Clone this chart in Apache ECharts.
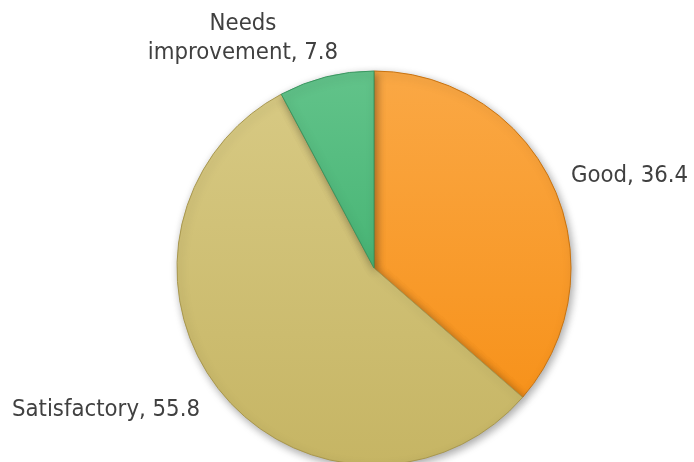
<!DOCTYPE html>
<html><head><meta charset="utf-8">
<script src="https://cdn.jsdelivr.net/npm/echarts@6/dist/echarts.min.js"></script>
<style>html,body{margin:0;padding:0;background:#fff}#c{width:694px;height:462px}</style>
</head><body><div id="c"></div>
<script>
const categories = ['Good', 'Satisfactory', 'Needs improvement'];
const values = [36.4, 55.8, 7.8];
const labelText = ['Good, 36.4', 'Satisfactory, 55.8', 'Needs\nimprovement, 7.8'];
const colorsTop = ['#FAA845', '#D7C983', '#62C38A'];
const colorsBot = ['#F7921B', '#C6B564', '#48B575'];
const borders = ['#C9730F', '#A8974E', '#3A9660'];
const labelPos = [
  {x: 571, y: 176, align: 'left'},
  {x: 12, y: 410, align: 'left'},
  {x: 243, y: 38, align: 'center'}
];

const FONT = '"DejaVu Sans Condensed", "DejaVu Sans", sans-serif';
const mctx = document.createElement('canvas').getContext('2d');
mctx.font = '100px ' + FONT;
const fontSize = Math.round(10 * 100 * 188 / mctx.measureText('Satisfactory, 55.8').width) / 10;

const chart = echarts.init(document.getElementById('c'));
chart.setOption({
  animation: false,
  series: [{
    type: 'pie',
    center: [374, 268],
    radius: [0, 197],
    startAngle: 90,
    clockwise: true,
    label: {
      show: true,
      position: 'outside',
      fontFamily: FONT,
      fontSize: fontSize,
      color: '#404040',
      lineHeight: 29,
      overflow: 'none',
      formatter: p => labelText[p.dataIndex]
    },
    labelLine: {show: false},
    labelLayout: p => ({x: labelPos[p.dataIndex].x, y: labelPos[p.dataIndex].y, align: labelPos[p.dataIndex].align, verticalAlign: 'middle'}),
    emphasis: {disabled: true},
    data: categories.map((c, i) => ({
      name: c,
      value: values[i],
      itemStyle: {
        color: new echarts.graphic.LinearGradient(0, 0, 0, 1, [
          {offset: 0, color: colorsTop[i]},
          {offset: 1, color: colorsBot[i]}
        ]),
        borderColor: borders[i],
        borderWidth: 1,
        shadowBlur: 8,
        shadowOffsetX: 2,
        shadowOffsetY: 3,
        shadowColor: 'rgba(0,0,0,0.35)'
      }
    }))
  }]
});
</script></body></html>
